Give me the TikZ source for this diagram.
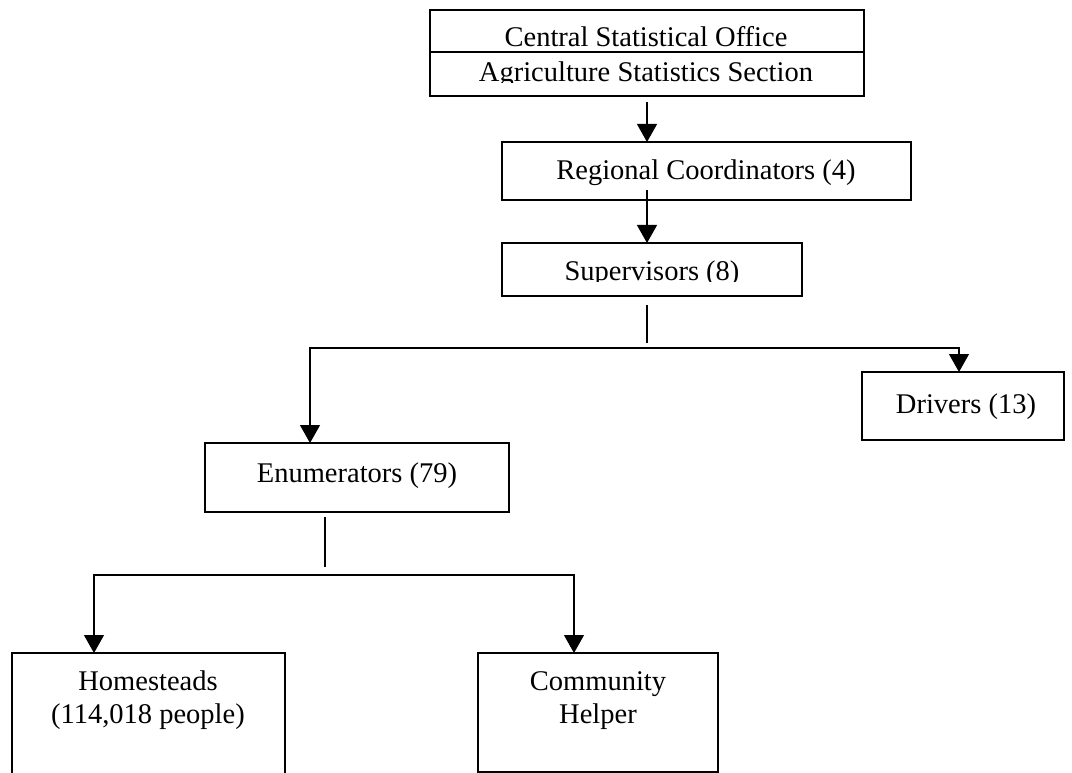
\documentclass[tikz,border=0pt]{standalone}
\usepackage{fontspec}
\setmainfont{Liberation Serif}
\usepackage{tikz}
\usetikzlibrary{arrows.meta, calc}

\begin{document}
\begin{tikzpicture}[x=1pt, y=-1pt]
    % --- GLOBAL DEFINITIONS ---
    \tikzset{
        orgbox/.style={draw, rectangle, line width=1.3pt, inner sep=0pt, outer sep=0pt, anchor=north west},
        boxtext/.style={inner sep=0pt, anchor=base, align=center, font=\fontsize{28.5}{33}\selectfont},
        downarrow/.style={-{Triangle[length=18pt, width=20pt]}, line width=1.3pt},
        twoarrow/.style={{Triangle[length=18pt, width=20pt]}-{Triangle[length=18pt, width=20pt]}, line width=1.3pt},
        plainline/.style={line width=1.3pt}
    }
    \useasboundingbox (0,0) rectangle (1072,773);

    % BOXES
    \node[orgbox, minimum width=434pt, minimum height=86pt] (cso) at (430,10) {};
    \node[orgbox, minimum width=409pt, minimum height=58pt] (regcoord) at (502,142) {};
    \node[orgbox, minimum width=300pt, minimum height=53pt] (superv) at (502,243) {};
    \node[orgbox, minimum width=202pt, minimum height=68pt] (drivers) at (862,372) {};
    \node[orgbox, minimum width=304pt, minimum height=69pt] (enum) at (205,443) {};
    \node[orgbox, minimum width=273pt, minimum height=140pt] (homestead) at (12,653) {};
    \node[orgbox, minimum width=240pt, minimum height=119pt] (helper) at (478,653) {};

    % divider in the top box
    \coordinate (divider) at (0,52);
    \draw[plainline] (cso.west |- divider) -- (cso.east |- divider);

    % TEXTS
    \node[boxtext] (csoname) at (646,47) {Central Statistical Office};
    \begin{scope}
        \clip (cso.north west) rectangle ([yshift=13pt]cso.south east);
        \node[boxtext] (csosub) at (646,82) {Agriculture Statistics Section};
    \end{scope}
    \node[boxtext] (regtext) at (706,180) {Regional Coordinators (4)};
    \begin{scope}
        \clip (superv.north west) rectangle ([yshift=15pt]superv.south east);
        \node[boxtext] (suptext) at (652,280) {Supervisors (8)};
    \end{scope}
    \node[boxtext] (drvtext) at (966,413) {Drivers (13)};
    \node[boxtext] (enumtext) at (357,482) {Enumerators (79)};
    \node[boxtext] (hometext) at (148,723) {Homesteads\\(114,018 people)};
    \node[boxtext] (helptext) at (598,723) {Community\\Helper};

    % CONNECTORS
    \coordinate (regdrop) at (647,190);
    \draw[downarrow] ([yshift=-6pt]cso.south) -- (cso.south |- regcoord.north);
    \draw[downarrow] (regdrop) -- (regdrop |- superv.north);

    \coordinate (supdrop) at (647,305);
    \coordinate (supjoin) at (647,343);
    \coordinate (busL) at (310,348);
    \coordinate (busR) at (959,348);
    \draw[plainline] (supdrop) -- (supjoin);
    \draw[twoarrow] (busL |- enum.north) -- (busL) -- (busR) -- (busR |- drivers.north);

    \coordinate (enumdrop) at (325,517);
    \coordinate (enumjoin) at (325,567);
    \coordinate (lowL) at (94,575);
    \coordinate (lowR) at (574,575);
    \draw[plainline] (enumdrop) -- (enumjoin);
    \draw[twoarrow] (lowL |- homestead.north) -- (lowL) -- (lowR) -- (lowR |- helper.north);
\end{tikzpicture}
\end{document}
